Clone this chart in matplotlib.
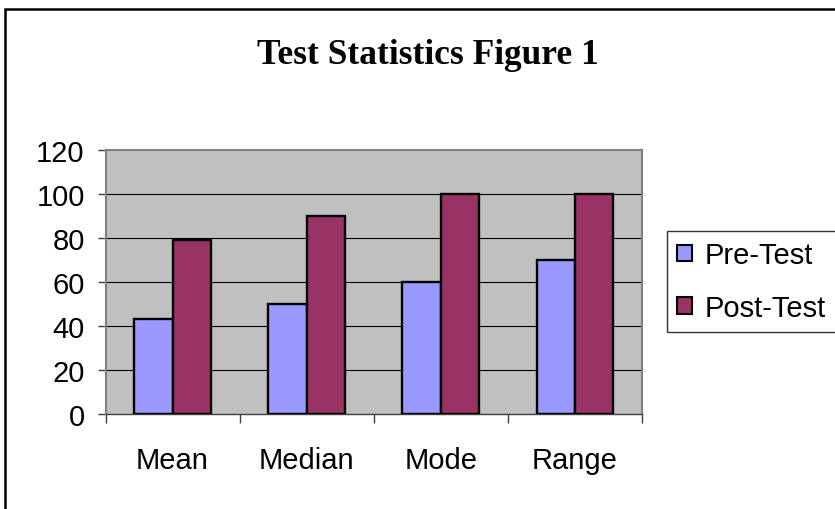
import numpy as np
import matplotlib
matplotlib.use('Agg')
import matplotlib.pyplot as plt
from matplotlib.patches import Rectangle, Patch


categories = ['Mean', 'Median', 'Mode', 'Range']
pre_test = [43, 50, 60, 70]
post_test = [79, 90, 100, 100]
series_names = ['Pre-Test', 'Post-Test']
y_ticks = [0, 20, 40, 60, 80, 100, 120]

W, H = 835, 510
fig = plt.figure(figsize=(W / 100, H / 100), dpi=100)

# outer chart border (runs off right and bottom edges like the original)
fig.patches.append(Rectangle((5 / W, -0.05), 1.1, (H - 10) / H + 0.05, transform=fig.transFigure,
                             fill=False, edgecolor='black', linewidth=1.8))

fig.text(428 / W, (H - 56) / H, 'Test Statistics Figure 1', ha='center', va='center',
         family='Liberation Serif', fontweight='bold', fontsize=25.5)

ax = fig.add_axes([105.5 / W, 95 / H, (642 - 105.5) / W, (415 - 151) / H])
ax.set_facecolor('#C0C0C0')

x = np.arange(len(categories))
w = 1 / 3.5
ax.bar(x - w / 2, pre_test, width=w, color='#9999FF', edgecolor='black', linewidth=1.7, zorder=3)
ax.bar(x + w / 2, post_test, width=w, color='#993366', edgecolor='black', linewidth=1.7, zorder=3)

ax.set_xlim(-0.5, len(categories) - 0.5)
ax.set_ylim(0, 120)
ax.set_yticks(y_ticks)
ax.set_yticklabels([str(v) for v in y_ticks], family='Liberation Sans', fontsize=21)
for v in y_ticks[1:-1]:
    ax.axhline(v, color='black', linewidth=0.8, zorder=1)

ax.set_xticks(np.arange(len(categories) + 1) - 0.5)
ax.set_xticklabels([])
ax.set_xticks(x, minor=True)
ax.set_xticklabels(categories, minor=True, family='Liberation Sans', fontsize=21)
ax.tick_params(axis='x', which='major', direction='out', length=6.5, width=1, color='#404040')
ax.tick_params(axis='x', which='minor', length=0, pad=23)
ax.tick_params(axis='y', direction='out', length=6, width=1, pad=9, color='#404040')

for side in ['left', 'top', 'right']:
    ax.spines[side].set_color('#808080')
    ax.spines[side].set_linewidth(1.5)
ax.spines['bottom'].set_color('#404040')
ax.spines['bottom'].set_linewidth(1)

handles = [Patch(facecolor='#9999FF', edgecolor='black', linewidth=1.5),
           Patch(facecolor='#993366', edgecolor='black', linewidth=1.5)]
leg = fig.legend(handles, series_names, loc='upper left', bbox_to_anchor=(667 / W, (H - 232) / H),
                 prop={'family': 'Liberation Sans', 'size': 21}, frameon=True, fancybox=False,
                 edgecolor='black', handlelength=0.5, handleheight=0.5, handletextpad=0.45,
                 borderpad=0.35, labelspacing=0.85, borderaxespad=0)
leg.get_frame().set_linewidth(1)

fig.savefig('out.png', dpi=100)
